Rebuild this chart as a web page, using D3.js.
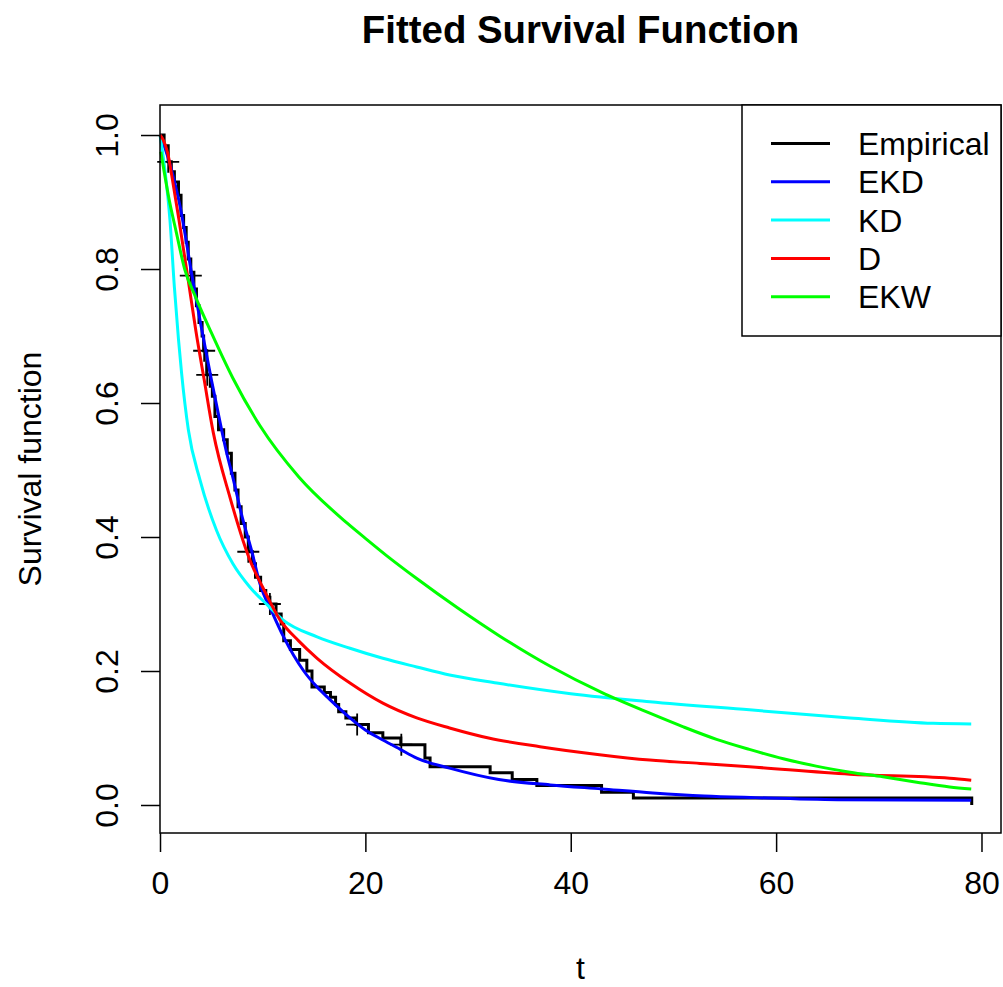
<!DOCTYPE html>
<html>
<head>
<meta charset="utf-8">
<script src="https://cdn.jsdelivr.net/npm/d3@7"></script>
<style>
  body { margin: 0; background: #fff; }
  text { font-family: "Liberation Sans", Arial, sans-serif; fill: #000; }
</style>
</head>
<body>
<script>
// empirical survival (Kaplan-Meier steps)
var empT = [0, 0.4, 0.8, 1.1, 1.4, 1.8, 2.05, 2.3, 2.55, 2.75, 3.0, 3.3, 3.55, 3.8, 4.1, 4.25, 4.55, 4.9, 5.1, 5.35, 5.7, 6.2, 6.55, 6.95, 7.3, 7.6, 7.9, 8.3, 8.6, 9.0, 9.3, 9.8, 10.3, 10.7, 11.3, 11.8, 12.05, 12.7, 13.6, 14.3, 14.8, 16.0, 16.6, 17.1, 17.4, 18.1, 19.1, 20.3, 21.7, 23.45, 25.8, 26.3, 32.15, 34.3, 36.7, 43.0, 46.1, 79.05];
var empS = [1.0, 0.984, 0.96, 0.945, 0.93, 0.91, 0.88, 0.862, 0.84, 0.815, 0.795, 0.77, 0.745, 0.72, 0.7, 0.678, 0.642, 0.625, 0.61, 0.58, 0.56, 0.545, 0.525, 0.495, 0.47, 0.445, 0.42, 0.4, 0.378, 0.36, 0.34, 0.32, 0.31, 0.3, 0.285, 0.27, 0.245, 0.232, 0.216, 0.2, 0.176, 0.168, 0.161, 0.15, 0.139, 0.13, 0.12, 0.108, 0.1, 0.09, 0.07, 0.057, 0.048, 0.038, 0.029, 0.019, 0.0105, 0];
// censoring marks
var censT = [0.8, 3.0, 4.3, 4.6, 8.6, 10.7, 19.2, 23.5];
var censS = [0.96, 0.79, 0.678, 0.642, 0.378, 0.3, 0.12, 0.09];

// fitted curves
var ekdT = [0, 0.5, 1, 1.5, 2, 2.5, 3, 3.5, 4, 5, 6, 6.5, 7, 8, 9, 9.7, 11, 12, 14, 15.3, 16.5, 18.5, 20, 21.7, 23.4, 25, 28.2, 33, 38, 43, 48, 53, 58, 66, 79];
var ekdS = [1.0, 0.98, 0.955, 0.925, 0.89, 0.847, 0.8, 0.757, 0.715, 0.635, 0.56, 0.525, 0.495, 0.43, 0.375, 0.332, 0.285, 0.252, 0.2, 0.176, 0.158, 0.13, 0.112, 0.097, 0.083, 0.07, 0.055, 0.038, 0.03, 0.024, 0.018, 0.0135, 0.011, 0.008, 0.007];

var kdT = [0, 0.1, 0.5, 0.97, 1.4, 1.8, 2.1, 2.76, 3.9, 5.5, 7.1, 8.76, 10.5, 12, 15.3, 18.5, 21.7, 25, 28.2, 32.8, 40, 47.7, 57.4, 67.2, 75.3, 79];
var kdS = [1.0, 0.99, 0.945, 0.873, 0.773, 0.695, 0.645, 0.56, 0.485, 0.41, 0.36, 0.325, 0.298, 0.276, 0.251, 0.234, 0.219, 0.206, 0.194, 0.182, 0.166, 0.154, 0.142, 0.13, 0.122, 0.121];

var dT = [0, 0.3, 0.75, 1.3, 1.85, 2.85, 3.5, 4.3, 5.2, 6.8, 8.9, 10, 11.7, 13.5, 15.3, 18.5, 21.7, 25, 28.2, 32, 37, 42.8, 47.7, 52.6, 57.4, 67.2, 76.9, 79];
var dS = [1.0, 0.993, 0.973, 0.925, 0.873, 0.773, 0.707, 0.635, 0.555, 0.46, 0.36, 0.325, 0.276, 0.245, 0.219, 0.182, 0.152, 0.13, 0.115, 0.1, 0.087, 0.075, 0.067, 0.062, 0.057, 0.046, 0.04, 0.037];

var ekwT = [0.08, 0.9, 1.6, 2.4, 3.5, 5.0, 7.1, 9.74, 13.5, 18.2, 20, 22, 25, 29, 33.1, 38, 43, 47.7, 50.9, 54.2, 57.4, 60.7, 63.9, 67.2, 70.4, 73.7, 76.9, 79];
var ekwS = [0.975, 0.903, 0.854, 0.8, 0.757, 0.705, 0.637, 0.566, 0.49, 0.421, 0.398, 0.373, 0.338, 0.294, 0.252, 0.207, 0.168, 0.137, 0.117, 0.098, 0.083, 0.069, 0.058, 0.049, 0.042, 0.034, 0.027, 0.024];

var legendNames = ["Empirical", "EKD", "KD", "D", "EKW"];
var legendColors = ["black", "blue", "cyan", "red", "#00ff00"];
var xTicks = [0, 20, 40, 60, 80];
var yTicks = [0, 0.2, 0.4, 0.6, 0.8, 1.0];

// размеры
var W = 1003, H = 987;
var pLeft = 160, pRight = 1001, pTop = 105, pBottom = 833;

var svg = d3.select("body").append("svg")
    .attr("width", W)
    .attr("height", H);

svg.append("rect").attr("width", W).attr("height", H).attr("fill", "white");

var x = d3.scaleLinear().domain([0, 81.9]).range([pLeft, pRight]);
var y = d3.scaleLinear().domain([-0.0418, 1.0448]).range([pBottom, pTop]);

function zip(a, b) {
    return a.map(function(v, i) { return [v, b[i]]; });
}

var stepLine = d3.line()
    .x(function(d) { return x(d[0]); })
    .y(function(d) { return y(d[1]); })
    .curve(d3.curveStepAfter);

var smoothLine = d3.line()
    .x(function(d) { return x(d[0]); })
    .y(function(d) { return y(d[1]); })
    .curve(d3.curveMonotoneX);

var plot = svg.append("g");

plot.append("path")
    .attr("d", stepLine(zip(empT, empS)))
    .attr("fill", "none").attr("stroke", "black").attr("stroke-width", 3);

zip(censT, censS).forEach(function(d) {
    var cx = x(d[0]), cy = y(d[1]);
    plot.append("path")
        .attr("d", "M" + (cx - 11) + " " + cy + " h22 M" + cx + " " + (cy - 11) + " v22")
        .attr("stroke", "black").attr("stroke-width", 1.8);
});

var fits = [[ekdT, ekdS, "blue"], [kdT, kdS, "cyan"], [dT, dS, "red"], [ekwT, ekwS, "#00ff00"]];
fits.forEach(function(f) {
    plot.append("path")
        .attr("d", smoothLine(zip(f[0], f[1])))
        .attr("fill", "none").attr("stroke", f[2]).attr("stroke-width", 3);
});

// оси
var xAxis = svg.append("g")
    .attr("transform", "translate(0," + pBottom + ")")
    .call(d3.axisBottom(x).tickValues(xTicks).tickSize(19).tickPadding(19).tickFormat(d3.format("d")));
xAxis.select(".domain").remove();
xAxis.selectAll(".tick line").attr("stroke", "black").attr("stroke-width", 1.5);
xAxis.selectAll(".tick text").attr("font-size", 32).attr("font-family", "Liberation Sans, Arial, sans-serif").attr("fill", "black");

var yAxis = svg.append("g")
    .attr("transform", "translate(" + pLeft + ",0)")
    .call(d3.axisLeft(y).tickValues(yTicks).tickSize(19).tickFormat(d3.format(".1f")));
yAxis.select(".domain").remove();
yAxis.selectAll(".tick line").attr("stroke", "black").attr("stroke-width", 1.5);
yAxis.selectAll(".tick text")
    .attr("transform", "rotate(-90)")
    .attr("x", 0).attr("y", -42).attr("dy", 0)
    .attr("text-anchor", "middle")
    .attr("font-size", 32).attr("font-family", "Liberation Sans, Arial, sans-serif").attr("fill", "black");

// рамка
svg.append("rect")
    .attr("x", pLeft).attr("y", pTop)
    .attr("width", pRight - pLeft).attr("height", pBottom - pTop)
    .attr("fill", "none").attr("stroke", "black").attr("stroke-width", 1.5);

// подписи
svg.append("text")
    .attr("x", (pLeft + pRight) / 2).attr("y", 43)
    .attr("text-anchor", "middle")
    .attr("font-size", 38.4).attr("font-weight", "bold")
    .text("Fitted Survival Function");

svg.append("text")
    .attr("x", (pLeft + pRight) / 2).attr("y", 979)
    .attr("text-anchor", "middle").attr("font-size", 32)
    .text("t");

svg.append("text")
    .attr("transform", "translate(41," + (pTop + pBottom) / 2 + ") rotate(-90)")
    .attr("text-anchor", "middle").attr("font-size", 32)
    .text("Survival function");

// легенда
var lg = svg.append("g");
lg.append("rect")
    .attr("x", 742).attr("y", pTop)
    .attr("width", pRight - 742).attr("height", 231)
    .attr("fill", "white").attr("stroke", "black").attr("stroke-width", 1.5);

legendNames.forEach(function(name, i) {
    var ly = 143.5 + i * 38.3;
    lg.append("line")
        .attr("x1", 771).attr("x2", 830)
        .attr("y1", ly).attr("y2", ly)
        .attr("stroke", legendColors[i]).attr("stroke-width", 3);
    lg.append("text")
        .attr("x", 858).attr("y", ly + 11.5)
        .attr("font-size", 32)
        .text(name);
});
</script>
</body>
</html>
